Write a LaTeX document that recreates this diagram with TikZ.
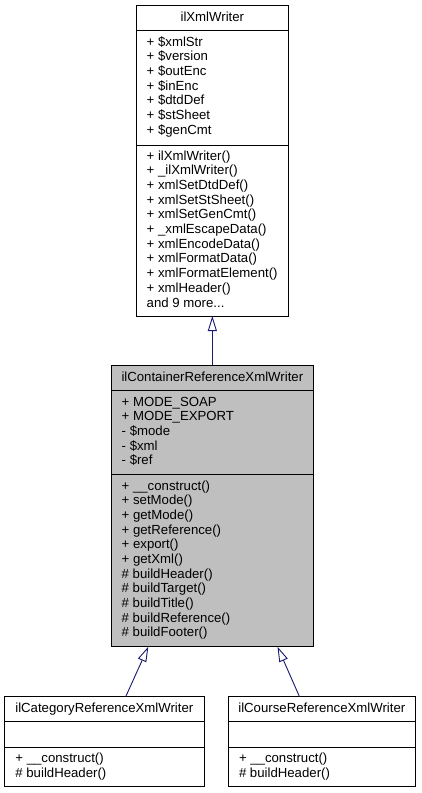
\documentclass[tikz,border=0pt]{standalone}
\usepackage{fontspec}
\setmainfont{Liberation Sans}
\usetikzlibrary{arrows.meta}
\definecolor{edgeblue}{RGB}{25,25,112}
\definecolor{boxgray}{RGB}{191,191,191}
\begin{document}
\begin{tikzpicture}[x=1pt,y=-1pt,
  box/.style={draw=black, line width=0.9pt, inner sep=0pt, outer sep=0pt, anchor=north west},
  sep/.style={draw=black, line width=0.9pt},
  txt/.style={anchor=base west, inner sep=0pt, font=\fontsize{13.2}{14.67}\selectfont},
  ttl/.style={anchor=base, inner sep=0pt, font=\fontsize{13.2}{14.67}\selectfont},
  inh/.style={draw=edgeblue, line width=0.9pt, -{Triangle[length=15pt,width=9pt,fill=white]}}]
\useasboundingbox[fill=white] (0,0) rectangle (421,793);

% ---- ilXmlWriter ----
\node[box, minimum width=152.7pt, minimum height=310.7pt] (writer) at (136,5.3) {};
\draw[sep] (136,30.7) -- (288.7,30.7);
\draw[sep] (136,145) -- (288.7,145);
\node[ttl] (writerT) at (212.35,21.2) {ilXmlWriter};
\foreach \s [count=\i] in {+ \$xmlStr, + \$version, + \$outEnc, + \$inEnc, + \$dtdDef, + \$stSheet, + \$genCmt}
  \node[txt] (wa\i) at (146.5,{46+14.67*(\i-1)}) {\s};
\foreach \s [count=\i] in {+ ilXmlWriter(), + \_ilXmlWriter(), + xmlSetDtdDef(), + xmlSetStSheet(), + xmlSetGenCmt(), + \_xmlEscapeData(), + xmlEncodeData(), + xmlFormatData(), + xmlFormatElement(), + xmlHeader(), {and 9 more.{}.{}.}}
  \node[txt] (wm\i) at (146.5,{160.3+14.67*(\i-1)}) {\s};

% ---- ilContainerReferenceXmlWriter ----
\node[box, fill=boxgray, minimum width=202.7pt, minimum height=281.7pt] (cont) at (111,365) {};
\draw[sep] (111,390.7) -- (313.7,390.7);
\draw[sep] (111,474.7) -- (313.7,474.7);
\node[ttl] (contT) at (212.35,381) {ilContainerReferenceXmlWriter};
\foreach \s [count=\i] in {+ MODE\_SOAP, + MODE\_EXPORT, - \$mode, - \$xml, - \$ref}
  \node[txt] (ca\i) at (121.5,{406+14.67*(\i-1)}) {\s};
\foreach \s [count=\i] in {+ \_\_construct(), + setMode(), + getMode(), + getReference(), + export(), + getXml(), \# buildHeader(), \# buildTarget(), \# buildTitle(), \# buildReference(), \# buildFooter()}
  \node[txt] (cm\i) at (121.5,{490+14.67*(\i-1)}) {\s};

% ---- ilCategoryReferenceXmlWriter ----
\node[box, minimum width=199.3pt, minimum height=90pt] (cat) at (4.7,696.7) {};
\draw[sep] (4.7,721.7) -- (204,721.7);
\draw[sep] (4.7,747.3) -- (204,747.3);
\node[ttl] (catT) at (104.35,712.7) {ilCategoryReferenceXmlWriter};
\node[txt] (cm1b) at (15.2,762.6) {+ \_\_construct()};
\node[txt] (cm2b) at (15.2,777.3) {\# buildHeader()};

% ---- ilCourseReferenceXmlWriter ----
\node[box, minimum width=187.7pt, minimum height=90pt] (crs) at (228,696.7) {};
\draw[sep] (228,721.7) -- (415.7,721.7);
\draw[sep] (228,747.3) -- (415.7,747.3);
\node[ttl] (crsT) at (321.85,712.7) {ilCourseReferenceXmlWriter};
\node[txt] (rm1) at (238.8,762.6) {+ \_\_construct()};
\node[txt] (rm2) at (238.8,777.3) {\# buildHeader()};

% ---- inheritance connectors ----
\coordinate (catFrom) at (125.7,696.7);
\coordinate (catTo) at (148.3,646.7);
\coordinate (crsFrom) at (299.5,696.7);
\coordinate (crsTo) at (277.5,646.7);
\draw[inh] (cont.north) -- (writer.south);
\draw[inh] (catFrom) -- (catTo);
\draw[inh] (crsFrom) -- (crsTo);
\end{tikzpicture}
\end{document}
